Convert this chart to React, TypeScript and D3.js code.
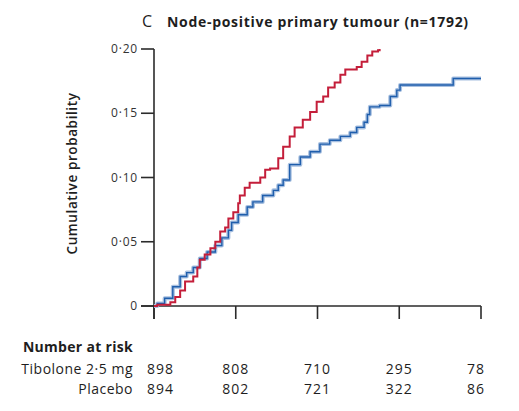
import React from "react";
import * as d3 from "d3";

// Kaplan–Meier style cumulative incidence, years since randomisation
const tiboloneTime = [0, 0.04, 0.2, 0.26, 0.32, 0.38, 0.48, 0.53, 0.56, 0.62, 0.69, 0.75, 0.81, 0.87, 0.91, 0.97, 1.03, 1.05, 1.11, 1.17, 1.3, 1.36, 1.42, 1.52, 1.58, 1.66, 1.72, 1.82, 1.91, 1.99, 2.07, 2.13, 2.21, 2.28, 2.34, 2.48, 2.54, 2.61, 2.67, 2.74, 2.76];
const tiboloneProb = [0, 0.001, 0.003, 0.007, 0.012, 0.019, 0.023, 0.03, 0.036, 0.04, 0.045, 0.05, 0.058, 0.061, 0.068, 0.073, 0.08, 0.086, 0.092, 0.096, 0.1, 0.106, 0.107, 0.115, 0.124, 0.132, 0.139, 0.145, 0.151, 0.159, 0.163, 0.17, 0.174, 0.18, 0.184, 0.186, 0.19, 0.195, 0.198, 0.199, 0.2];

const placeboTime = [0, 0.04, 0.13, 0.23, 0.32, 0.4, 0.48, 0.56, 0.65, 0.75, 0.83, 0.91, 0.95, 1.03, 1.14, 1.21, 1.33, 1.46, 1.52, 1.58, 1.66, 1.79, 1.91, 2.03, 2.15, 2.28, 2.4, 2.48, 2.57, 2.61, 2.64, 2.76, 2.89, 2.97, 3.01, 3.66, 4.0];
const placeboProb = [0, 0.002, 0.006, 0.015, 0.023, 0.026, 0.03, 0.037, 0.042, 0.047, 0.053, 0.059, 0.065, 0.071, 0.077, 0.081, 0.086, 0.09, 0.094, 0.098, 0.11, 0.116, 0.12, 0.126, 0.129, 0.132, 0.135, 0.139, 0.143, 0.149, 0.155, 0.156, 0.163, 0.168, 0.172, 0.177, 0.177];

const xTicks = [0, 1, 2, 3, 4];
const yTicks = [0, 0.05, 0.1, 0.15, 0.2];
const yTickLabels = ["0", "0·05", "0·10", "0·15", "0·20"];

const riskGroups = ["Tibolone 2·5 mg", "Placebo"];
const riskTibolone = [898, 808, 710, 295, 78];
const riskPlacebo = [894, 802, 721, 322, 86];

const RED = "#c41e3a";
const BLUE = "#1f5eac";
const BLUE_HALO = "#a8c0e0";
const AXIS = "#2b2b2b";
const INK = "#1e1e1e";
const FONT = "'Open Sans', sans-serif";

export default function App() {
  const x = d3.scaleLinear().domain([0, 4]).range([154, 481]);
  const y = d3.scaleLinear().domain([0, 0.2]).range([306, 49]);

  const line = d3
    .line<[number, number]>()
    .x((d) => x(d[0]))
    .y((d) => y(d[1]))
    .curve(d3.curveStepAfter);

  const tibPath = line(tiboloneTime.map((t, i) => [t, tiboloneProb[i]])) ?? "";
  const plaPath = line(placeboTime.map((t, i) => [t, placeboProb[i]])) ?? "";

  const x0 = x(0);
  const y0 = y(0);
  const tickLen = 13;

  const riskRows = [riskTibolone, riskPlacebo];
  const rowY = [374, 394];

  const riskX = (i: number) => {
    if (i === 0) return { x: x(xTicks[i]) - 7, anchor: "start" };
    if (i === xTicks.length - 1) return { x: x(xTicks[i]) + 4, anchor: "end" };
    return { x: x(xTicks[i]), anchor: "middle" };
  };

  return (
    <svg
      width={519}
      height={411}
      style={{ position: "absolute", left: 0, top: 0, background: "#fff" }}
      fontFamily={FONT}
    >
      {/* panel title */}
      <text x={142} y={27} fontSize={16} fill={INK}>C</text>
      <text x={167} y={27} fontSize={14} letterSpacing={0.7} fontWeight={700} fill={INK}>
        Node-positive primary tumour (n=1792)
      </text>

      {/* y axis */}
      <line x1={x0} x2={x0} y1={y(0.2)} y2={y0 + tickLen} stroke={AXIS} strokeWidth={1.6} />
      {yTicks.map((v, i) => (
        <g key={v}>
          <line x1={x0 - tickLen} x2={x0} y1={y(v)} y2={y(v)} stroke={AXIS} strokeWidth={1.6} />
          <text x={138} y={y(v) + 4} fontSize={12} letterSpacing={0.8} textAnchor="end" fill="#333">
            {yTickLabels[i]}
          </text>
        </g>
      ))}
      <text
        transform={`translate(77, ${y(0.1) - 4}) rotate(-90)`}
        textAnchor="middle"
        fontSize={13.5}
        letterSpacing={0.6}
        fontWeight={600}
        fill={INK}
      >
        Cumulative probability
      </text>

      {/* x axis */}
      <line x1={x0 - tickLen} x2={x(4)} y1={y0} y2={y0} stroke={AXIS} strokeWidth={1.6} />
      {xTicks.map((t) => (
        <line key={t} x1={x(t)} x2={x(t)} y1={y0} y2={y0 + tickLen} stroke={AXIS} strokeWidth={1.6} />
      ))}

      {/* curves */}
      <path d={plaPath} fill="none" stroke={BLUE_HALO} strokeWidth={4} strokeLinejoin="round" />
      <path d={plaPath} fill="none" stroke={BLUE} strokeWidth={1.4} />
      <path d={tibPath} fill="none" stroke={RED} strokeWidth={2} />

      {/* number at risk table */}
      <text x={133} y={352} fontSize={14} letterSpacing={0.3} fontWeight={700} textAnchor="end" fill={INK}>
        Number at risk
      </text>
      {riskGroups.map((g, r) => (
        <g key={g}>
          <text x={133} y={rowY[r]} fontSize={14} letterSpacing={0.5} fontWeight={500} textAnchor="end" fill={INK}>
            {g}
          </text>
          {riskRows[r].map((n, i) => {
            const p = riskX(i);
            return (
              <text
                key={i}
                x={p.x}
                y={rowY[r]}
                fontSize={14}
                letterSpacing={1}
                textAnchor={p.anchor}
                fill={INK}
              >
                {n}
              </text>
            );
          })}
        </g>
      ))}
    </svg>
  );
}
